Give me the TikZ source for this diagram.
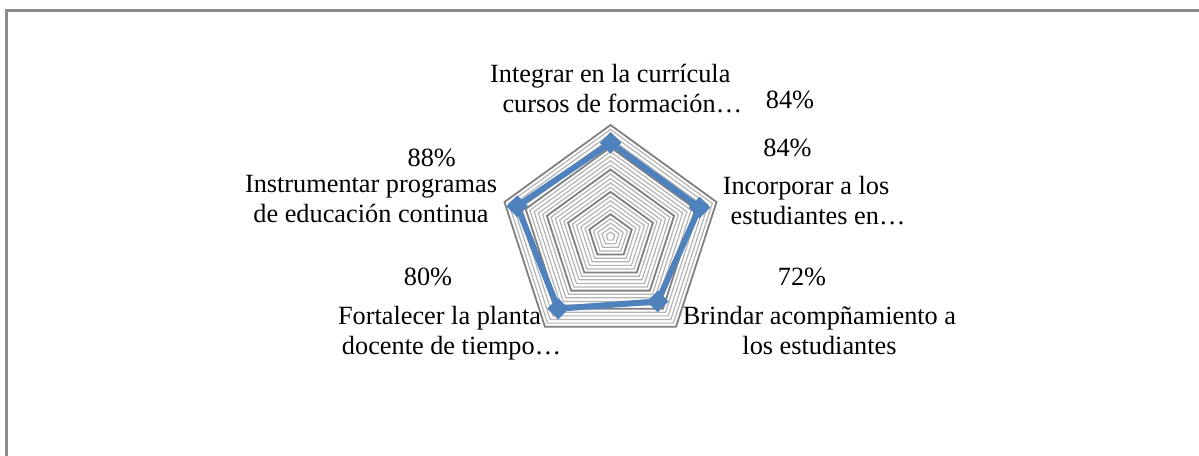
\documentclass[tikz,border=0pt]{standalone}
\usepackage{fontspec}
\setmainfont{Liberation Serif}
\usetikzlibrary{shapes.geometric}
\definecolor{serieblue}{HTML}{4F81BD}
\definecolor{majorgrid}{HTML}{808080}
\definecolor{minorgrid}{HTML}{B4B4B4}
\definecolor{framegray}{HTML}{8C8C8C}
\begin{document}
\begin{tikzpicture}[x=0.5pt,y=-0.5pt,
  lbl/.style={font=\fontsize{13.15}{15}\selectfont, align=center, inner sep=0pt},
  majorline/.style={draw=majorgrid, line width=0.9pt},
  minorline/.style={draw=minorgrid, line width=0.6pt},
  serie/.style={draw=serieblue, line width=3pt, line join=round},
  mk/.style={diamond, fill=serieblue, inner sep=0pt, minimum width=11pt, minimum height=11pt}]
\useasboundingbox (0,0) rectangle (1199,455);
\fill[white] (0,0) rectangle (1199,455);
\draw[framegray, line width=1.2pt] (6.5,470) -- (6.5,10.5) -- (1215,10.5);
\begin{scope}[shift={(610.5,236.5)}]
  \foreach \k in {1,2,3,4,6,7,8,9,11,12,13,14,16,17,18,19,21,22,23,24}{
    \pgfmathsetmacro\r{\k*4.46}
    \draw[minorline] (-90:\r) -- (-18:\r) -- (54:\r) -- (126:\r) -- (198:\r) -- cycle;
  }
  \foreach \k in {5,10,15,20,25}{
    \pgfmathsetmacro\r{\k*4.46}
    \draw[majorline] (-90:\r) -- (-18:\r) -- (54:\r) -- (126:\r) -- (198:\r) -- cycle;
  }
  \coordinate (p1) at (-90:93.66);
  \coordinate (p2) at (-18:93.66);
  \coordinate (p3) at (54:80.28);
  \coordinate (p4) at (126:89.2);
  \coordinate (p5) at (198:98.12);
  \draw[serie] (p1) -- (p2) -- (p3) -- (p4) -- (p5) -- cycle;
  \node[mk] (m1) at (p1) {};
  \node[mk] (m2) at (p2) {};
  \node[mk] (m3) at (p3) {};
  \node[mk] (m4) at (p4) {};
  \node[mk] (m5) at (p5) {};
\end{scope}
\node[lbl] (cat1) at (610.3,91.3) {\strut Integrar en la currícula\\\hspace*{12pt}\strut cursos de formación…};
\node[lbl] (cat2) at (806,203.3) {\strut Incorporar a los\\\hspace*{12pt}\strut estudiantes en…};
\node[lbl] (cat3) at (819.5,333.3) {\strut Brindar acompñamiento a\\\strut los estudiantes};
\node[lbl] (cat4) at (439.5,333.3) {\strut Fortalecer la planta\\\hspace*{12pt}\strut docente de tiempo…};
\node[lbl] (cat5) at (371,201.3) {\strut Instrumentar programas\\\strut de educación continua};
\node[lbl] (v1) at (790,102.3) {\strut 84\%};
\node[lbl] (v2) at (787.5,150.7) {\strut 84\%};
\node[lbl] (v3) at (802,279) {\strut 72\%};
\node[lbl] (v4) at (428,279) {\strut 80\%};
\node[lbl] (v5) at (431.7,160) {\strut 88\%};
\end{tikzpicture}
\end{document}
